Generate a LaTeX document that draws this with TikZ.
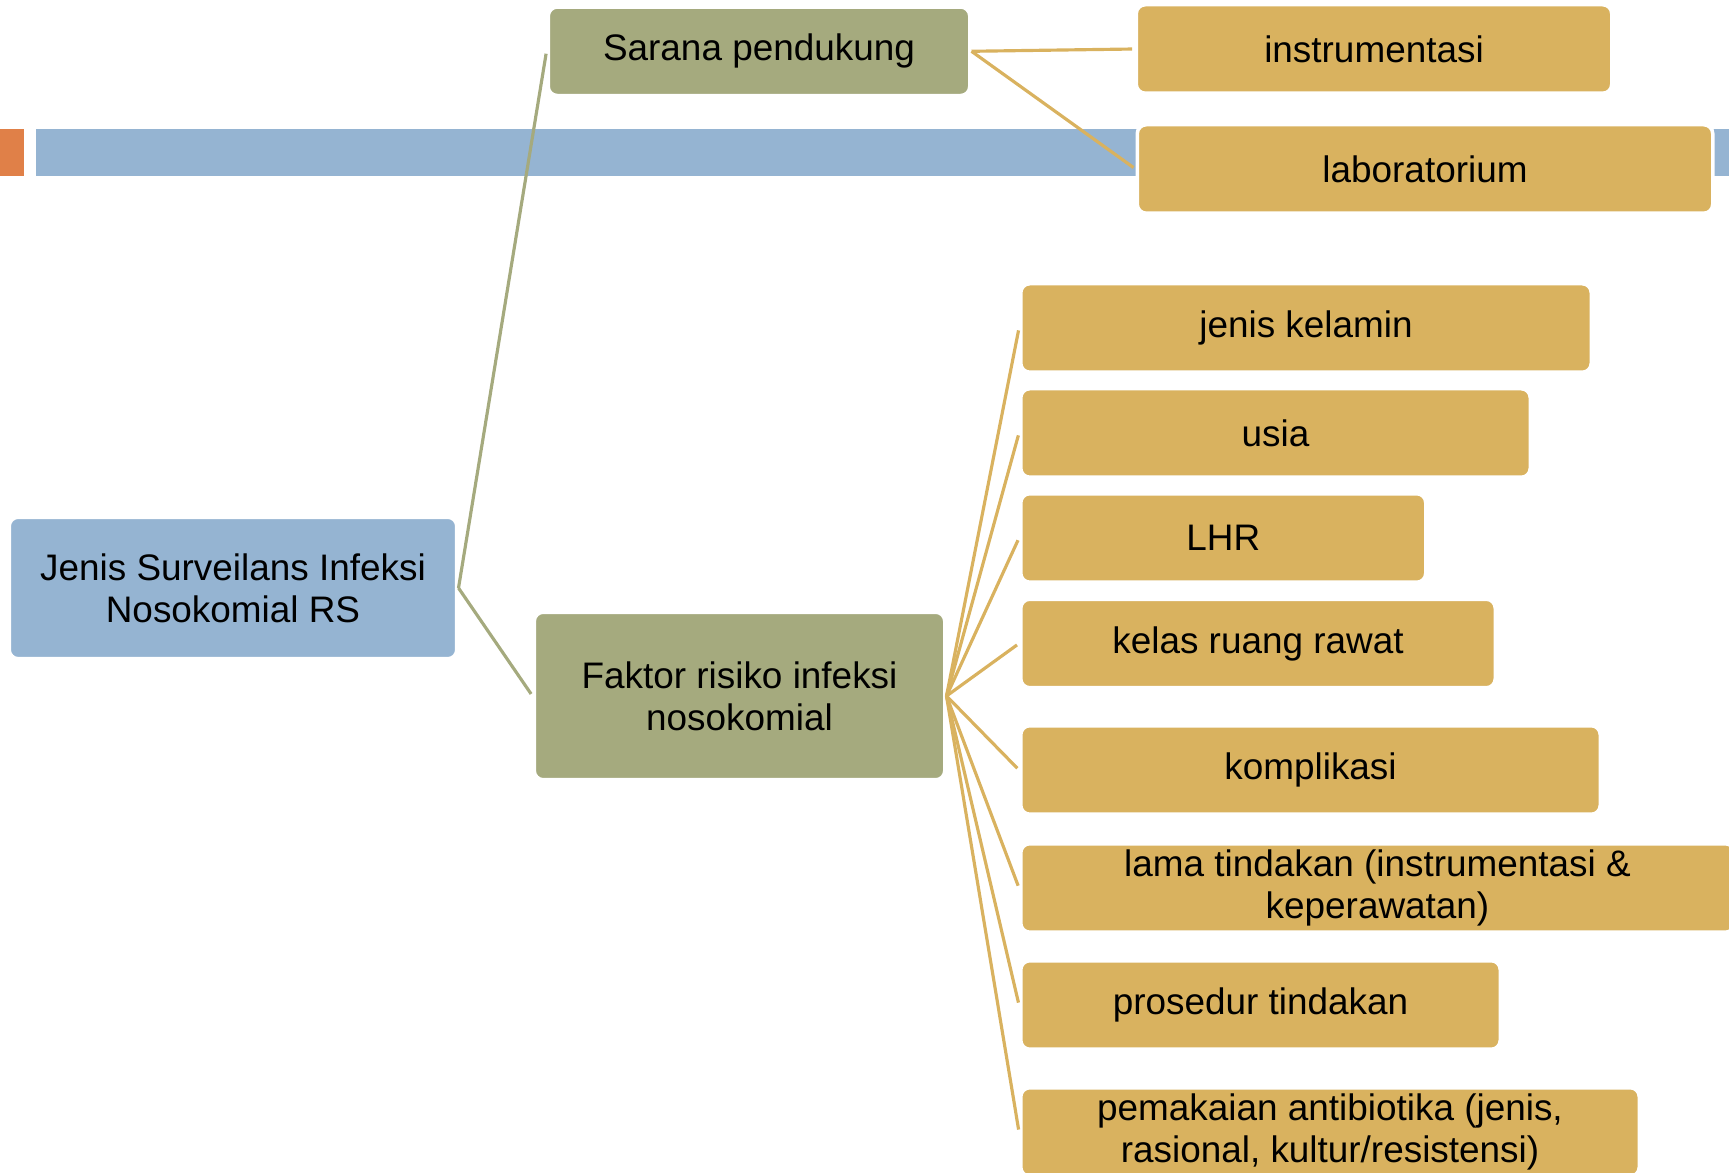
\documentclass[tikz,border=0pt]{standalone}
\usepackage{fontspec}
\setmainfont{Liberation Sans}

\definecolor{gold}{RGB}{217,178,95}
\definecolor{sage}{RGB}{165,170,126}
\definecolor{sky}{RGB}{149,180,210}
\definecolor{rust}{RGB}{224,128,72}

\begin{document}
\begin{tikzpicture}[
  box/.style={rounded corners=0.09cm, draw=white, line width=1pt, inner sep=0pt,
              minimum height=0.885cm, align=center, font=\fontsize{10.5}{12}\selectfont},
  leaf/.style={box, fill=gold},
  branch/.style={box, fill=sage},
  link/.style={line width=0.9pt, shorten >=0.7pt}]

\useasboundingbox (0,0) rectangle (17.29,-11.73);

% title bar
\fill [rust] (0,-1.29) rectangle (0.24,-1.76);
\fill [sky]  (0.36,-1.29) rectangle (17.29,-1.76);

\node [box, fill=sky, minimum width=4.475cm, minimum height=1.415cm] (root) at (2.33,-5.88)
      {Jenis Surveilans Infeksi\\Nosokomial RS};

\node [branch, minimum width=4.215cm] (sarana) at (7.59,-0.513) {Sarana pendukung};
\node [branch, minimum width=4.105cm, minimum height=1.675cm] (faktor) at (7.395,-6.96)
      {Faktor risiko infeksi\\nosokomial};

\node [leaf, minimum width=4.755cm] (instr) at (13.74,-0.49) {instrumentasi};
\node [leaf, minimum width=5.755cm] (lab)   at (14.25,-1.69) {laboratorium};

% risk factors
\node [leaf, anchor=west, minimum width=5.705cm] (kelamin)    at (10.19,-3.28)  {jenis kelamin};
\node [leaf, anchor=west, minimum width=5.095cm] (usia)       at (10.19,-4.33)  {usia};
\node [leaf, anchor=west, minimum width=4.05cm]  (lhr)        at (10.19,-5.38)  {LHR};
\node [leaf, anchor=west, minimum width=4.745cm] (kelas)      at (10.19,-6.435) {kelas ruang rawat};
\node [leaf, anchor=west, minimum width=5.795cm] (komplikasi) at (10.19,-7.70)  {komplikasi};
\node [leaf, anchor=west, minimum width=7.135cm] (lama)       at (10.19,-8.88)
      {lama tindakan (instrumentasi \&\\keperawatan)};
\node [leaf, anchor=west, minimum width=4.795cm] (prosedur)   at (10.19,-10.05) {prosedur tindakan};
\node [leaf, anchor=west, minimum width=6.185cm] (antibiotik) at (10.19,-11.32)
      {pemakaian antibiotika (jenis,\\rasional, kultur/resistensi)};

% connectors
\draw [link, sage] (root.east) -- (sarana.west);
\draw [link, sage] (root.east) -- (faktor.west);
\draw [link, gold] (sarana.east) -- (instr.west);
\draw [link, gold] (sarana.east) -- (lab.west);
\foreach \n in {kelamin,usia,lhr,kelas,komplikasi,lama,prosedur,antibiotik}
  \draw [link, gold] (faktor.east) -- (\n.west);

\end{tikzpicture}
\end{document}
